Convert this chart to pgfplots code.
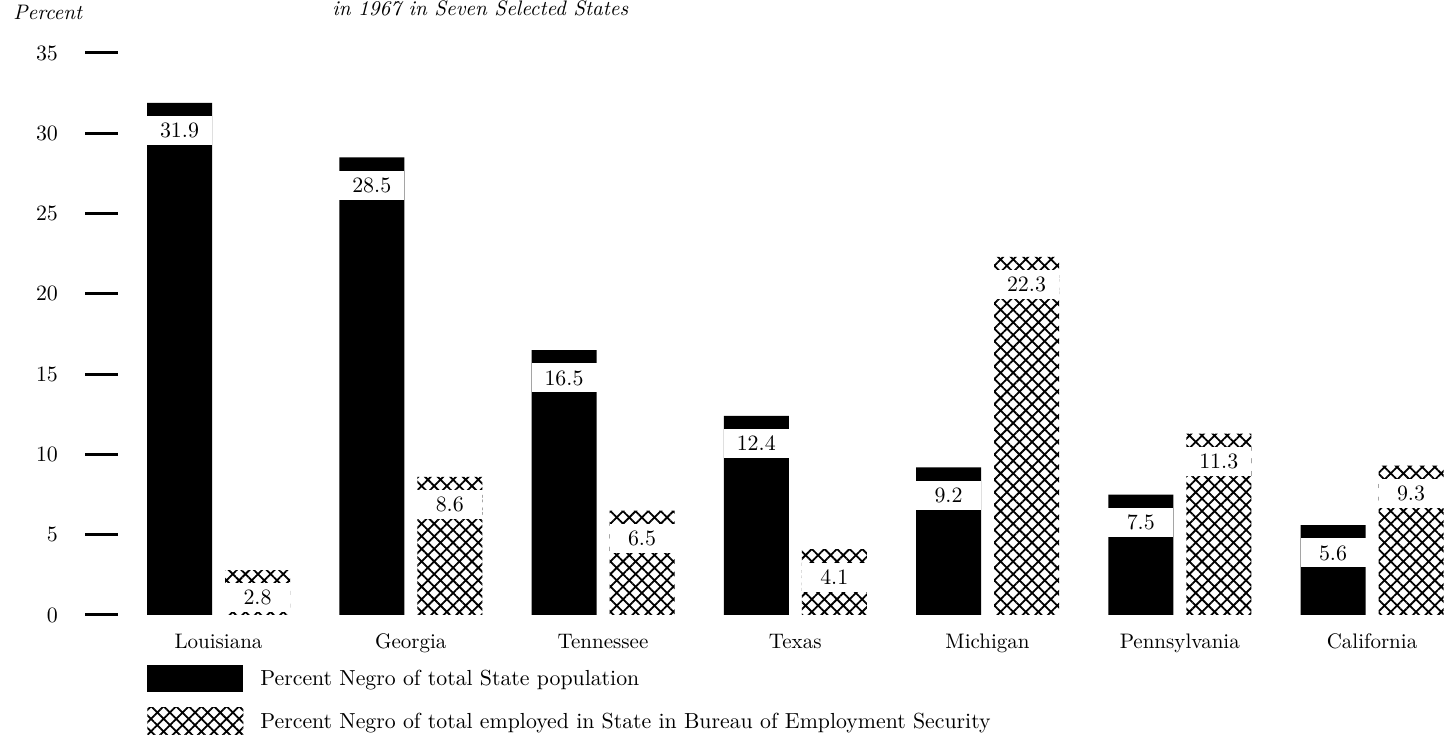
\documentclass[border=0pt]{standalone}
\usepackage{pgfplots}
\pgfplotsset{compat=1.18}
\usetikzlibrary{patterns.meta}
\begin{document}
\begin{tikzpicture}
\useasboundingbox (0,0) rectangle (726.5pt,372pt);
\node[font=\itshape\fontsize{10.5}{12}\selectfont, anchor=base west, inner sep=0pt] at (166pt,364.3pt) {in 1967 in Seven Selected States};
\node[font=\itshape\fontsize{10.5}{12}\selectfont, anchor=base west, inner sep=0pt] at (6.5pt,362pt) {Percent};
\begin{axis}[
  at={(59pt,64.5pt)}, anchor=south west,
  scale only axis, width=667.5pt, height=281pt,
  xmin=-0.5228, xmax=6.4213, ymin=0, ymax=35,
  ybar=6.5pt, bar width=32.5pt,
  axis x line*=bottom, axis y line*=left,
  axis line style={draw=none},
  xtick={0,1,2,3,4,5,6},
  xticklabels={Louisiana,Georgia,Tennessee,Texas,Michigan,Pennsylvania,California},
  x tick style={draw=none},
  ytick={0,5,10,15,20,25,30,35},
  y tick style={line width=1.5pt, black},
  tick align=outside,
  major tick length=16.5pt,
  yticklabel style={font=\fontsize{11}{12}\selectfont, xshift=-10pt},
  xticklabel style={font=\fontsize{10.5}{12}\selectfont, yshift=10.5pt},
  nodes near coords,
  nodes near coords style={font=\fontsize{10.5}{12}\selectfont, anchor=north, yshift=-6.5pt, fill=white, minimum width=32.5pt, minimum height=14.5pt, inner sep=0pt, text=black,
    /pgf/number format/.cd, fixed, fixed zerofill, precision=1},
  legend style={at={(axis description cs:0,0)}, anchor=north west, xshift=14.5pt, yshift=-25pt,
    draw=none, fill=none, inner sep=0pt, row sep=7.75pt, column sep=8.5pt,
    nodes={inner sep=0pt, font=\fontsize{10.9}{12}\selectfont}},
  legend cell align=left,
  legend image code/.code={\path[#1] (0pt,-6.5pt) rectangle (48pt,7pt);},
]
\addplot[fill=black, draw=none] coordinates {(0,31.9) (1,28.5) (2,16.5) (3,12.4) (4,9.2) (5,7.5) (6,5.6)};
\addplot[draw=none, pattern={Hatch[angle=45, distance=4.45pt, line width=0.9pt]}, pattern color=black] coordinates {(0,2.8) (1,8.6) (2,6.5) (3,4.1) (4,22.3) (5,11.3) (6,9.3)};
\legend{Percent Negro of total State population, Percent Negro of total employed in State in Bureau of Employment Security}
\end{axis}
\end{tikzpicture}
\end{document}
